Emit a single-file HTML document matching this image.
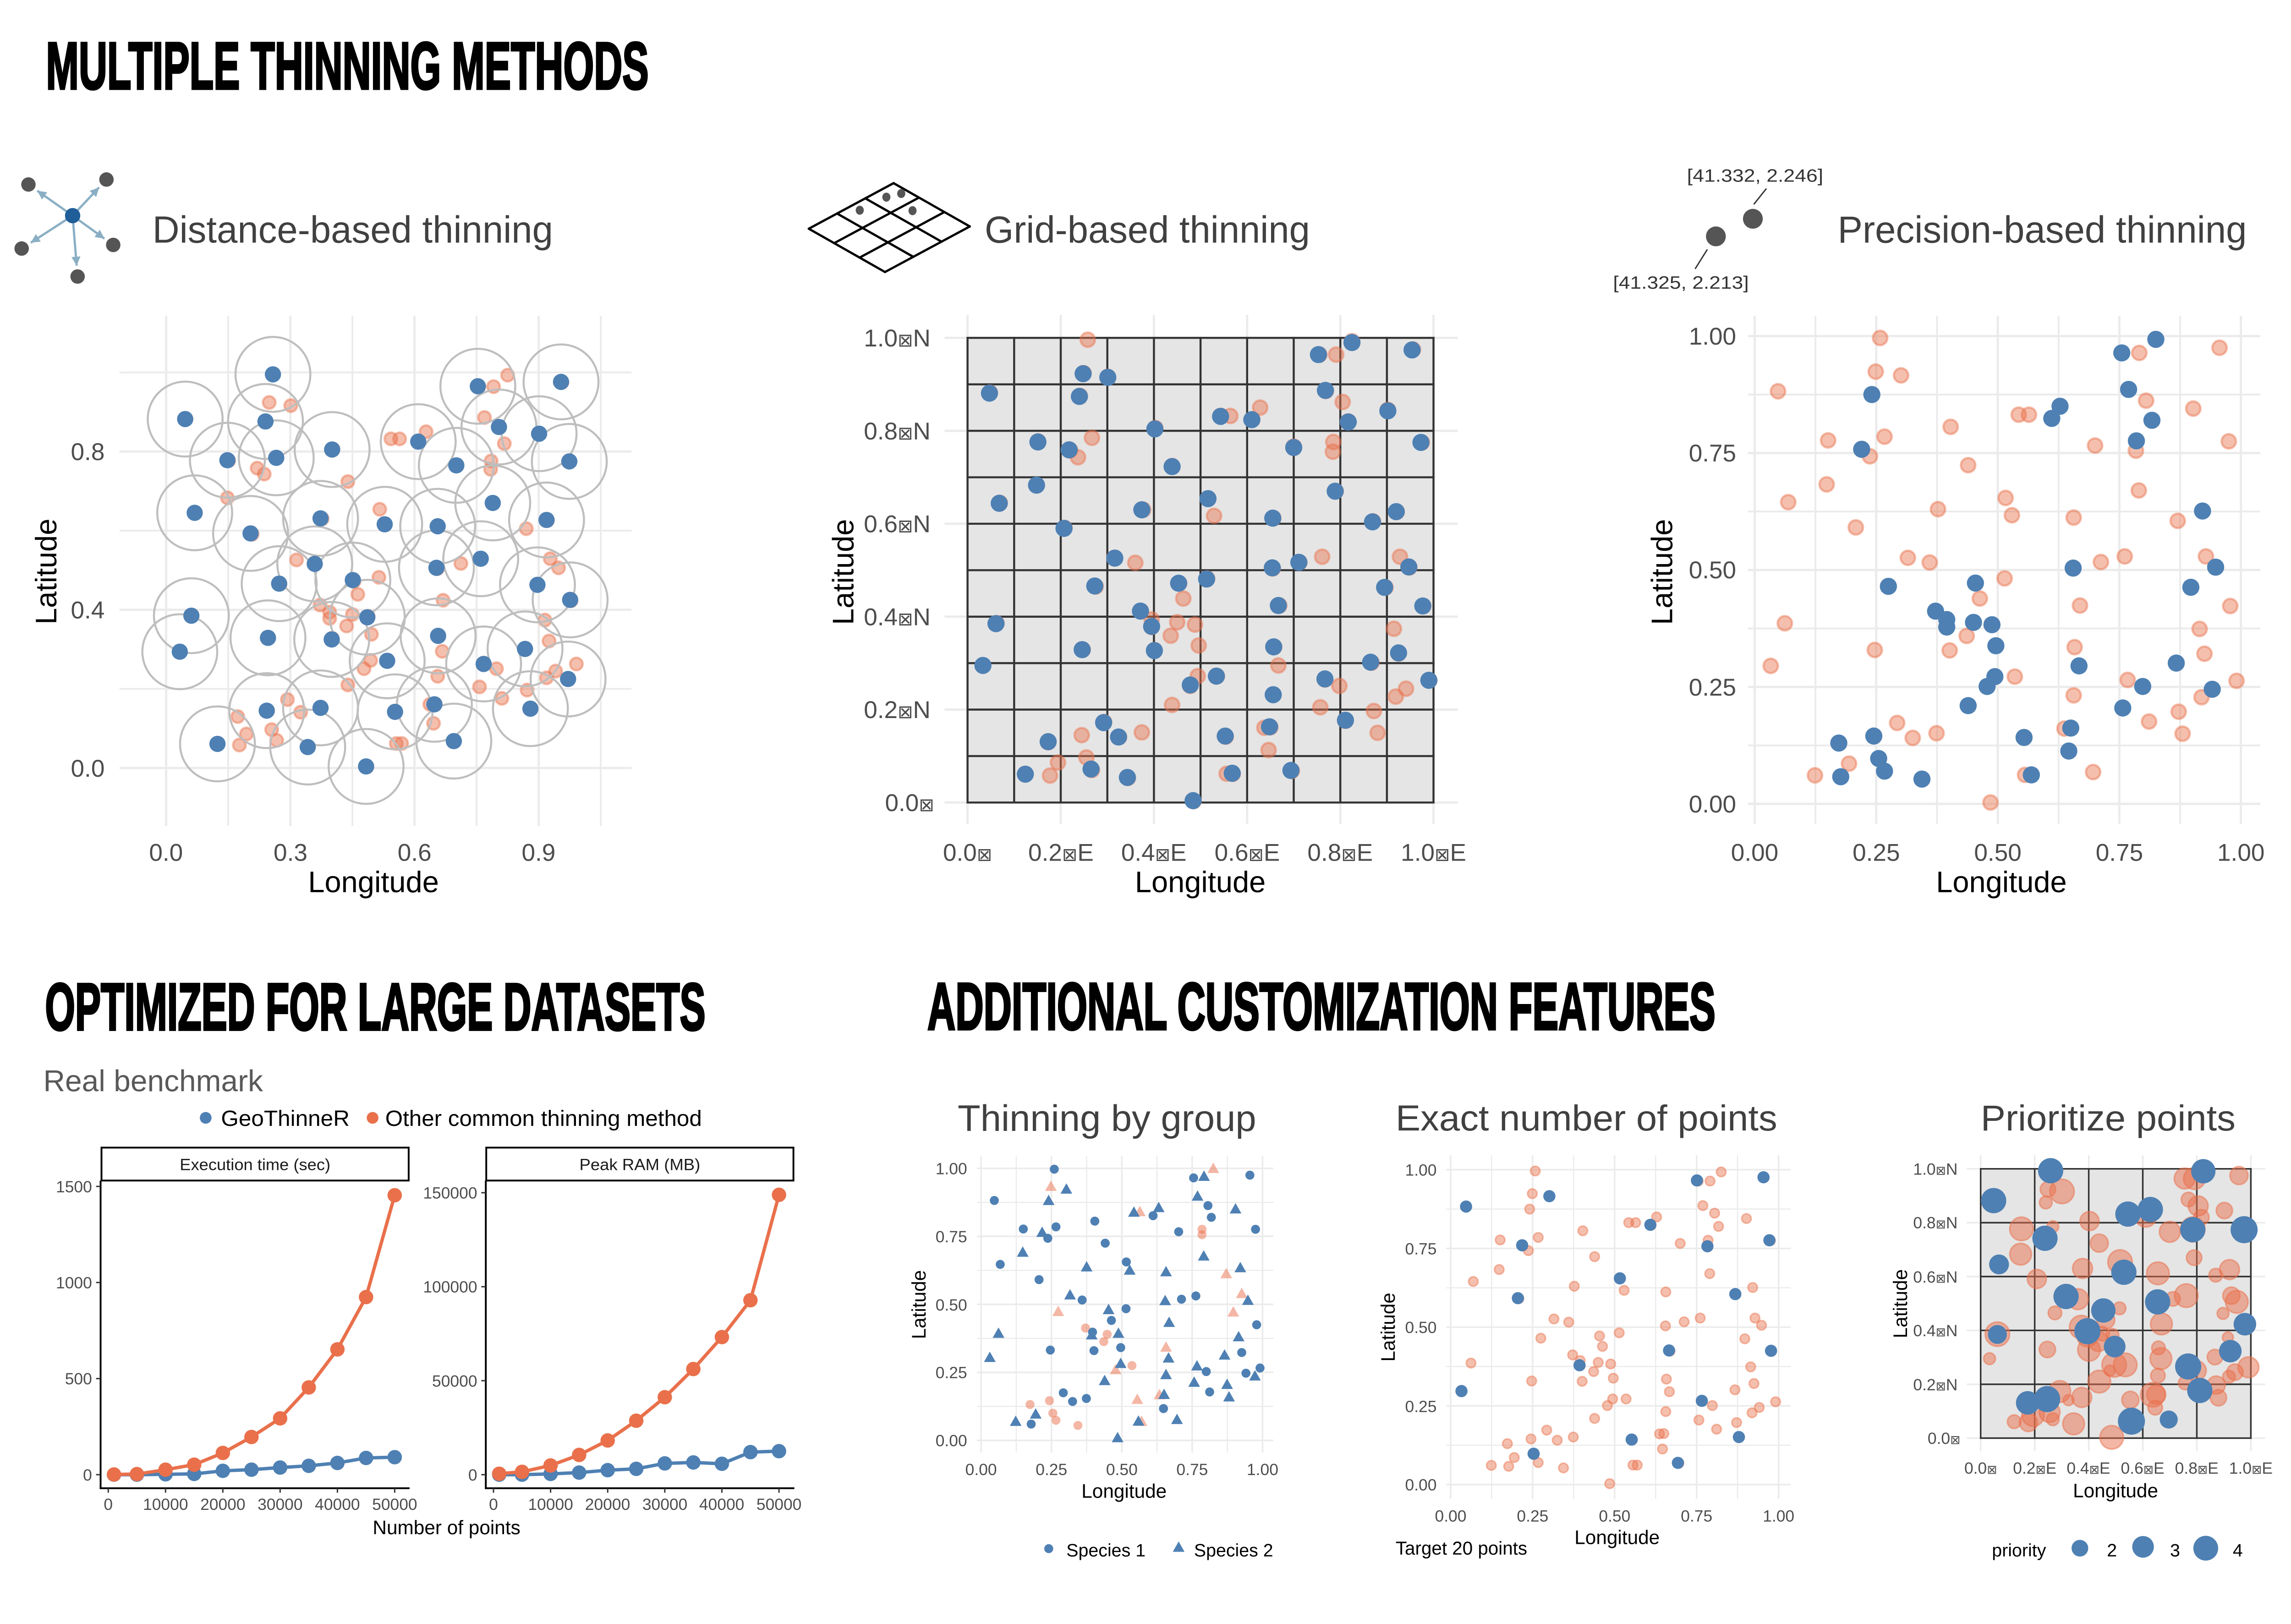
<!DOCTYPE html>
<html>
<head>
<meta charset="utf-8">
<style>
html,body{margin:0;padding:0;background:#fff;overflow:hidden;}
svg{display:block;width:100vw;height:69.777vw;}
text{font-family:"Liberation Sans","DejaVu Sans",sans-serif;}
.tk{font-size:54px;fill:#4D4D4D;}
.tks{font-size:36px;fill:#4D4D4D;}
.ax{font-size:66px;fill:#000;}
.axs{font-size:43px;fill:#000;}
.pt{fill:#404040;}
.big{font-weight:bold;fill:#000;stroke:#000;stroke-width:5;}
.bx{font-size:75%;}
</style>
</head>
<body>
<svg id="s" viewBox="0 0 5079 3544" preserveAspectRatio="none" xmlns="http://www.w3.org/2000/svg">
<defs>
<marker id="ah" viewBox="0 0 10 10" refX="10" refY="5" markerWidth="4" markerHeight="4" orient="auto">
<path d="M0,0 L10,5 L0,10 z" fill="#8AAFC4"/>
</marker>
</defs>
<rect x="0" y="0" width="5079" height="3544" fill="#fff"/>
<g id="dyn"></g>

<!-- Main titles -->
<text class="big" x="102" y="197" font-size="148" textLength="1336" lengthAdjust="spacingAndGlyphs">MULTIPLE THINNING METHODS</text>
<text class="big" x="100" y="2283" font-size="148" textLength="1464" lengthAdjust="spacingAndGlyphs">OPTIMIZED FOR LARGE DATASETS</text>
<text class="big" x="2056" y="2282" font-size="148" textLength="1747" lengthAdjust="spacingAndGlyphs">ADDITIONAL CUSTOMIZATION FEATURES</text>

<!-- Distance icon -->
<g stroke="#8AAFC4" stroke-width="5" marker-end="url(#ah)">
<line x1="161" y1="478" x2="82.6" y2="422.8"/>
<line x1="161" y1="478" x2="219.6" y2="415.5"/>
<line x1="161" y1="478" x2="68.2" y2="538"/>
<line x1="161" y1="478" x2="231.5" y2="529"/>
<line x1="161" y1="478" x2="170" y2="589"/>
</g>
<g fill="#555">
<circle cx="63" cy="409" r="16"/>
<circle cx="236" cy="398" r="16"/>
<circle cx="48" cy="551" r="16"/>
<circle cx="251" cy="543" r="16"/>
<circle cx="172" cy="613" r="16"/>
</g>
<circle cx="161" cy="478" r="17" fill="#1F5E99"/>

<!-- Grid icon -->
<g stroke="#000" stroke-width="5" stroke-linecap="round">
<line x1="1793" y1="507" x2="1981" y2="406"/>
<line x1="1849.3" y1="539" x2="2037.3" y2="438"/>
<line x1="1905.7" y1="571" x2="2093.7" y2="470"/>
<line x1="1962" y1="603" x2="2150" y2="502"/>
<line x1="1793" y1="507" x2="1962" y2="603"/>
<line x1="1855.7" y1="473.3" x2="2024.7" y2="569.3"/>
<line x1="1918.3" y1="439.7" x2="2087.3" y2="535.7"/>
<line x1="1981" y1="406" x2="2150" y2="502"/>
</g>
<g fill="#555">
<ellipse cx="1906" cy="466" rx="9" ry="10"/>
<ellipse cx="1965" cy="437" rx="9" ry="10"/>
<ellipse cx="1998" cy="429" rx="9" ry="10"/>
<ellipse cx="2023" cy="467" rx="9" ry="10"/>
</g>

<!-- Precision icon -->
<circle cx="3804" cy="524" r="22" fill="#555"/>
<circle cx="3886" cy="485" r="22" fill="#555"/>
<line x1="3888" y1="453" x2="3916" y2="418" stroke="#333" stroke-width="3"/>
<line x1="3785" y1="553" x2="3758" y2="596" stroke="#333" stroke-width="3"/>
<text x="3740" y="403" font-size="40" fill="#333" textLength="302" lengthAdjust="spacingAndGlyphs">[41.332, 2.246]</text>
<text x="3576" y="640" font-size="40" fill="#333" textLength="301" lengthAdjust="spacingAndGlyphs">[41.325, 2.213]</text>

<!-- Panel titles top -->
<text class="pt" x="338" y="538" font-size="84" textLength="888" lengthAdjust="spacingAndGlyphs">Distance-based thinning</text>
<text class="pt" x="2183" y="538" font-size="84" textLength="721" lengthAdjust="spacingAndGlyphs">Grid-based thinning</text>
<text class="pt" x="4074" y="538" font-size="84" textLength="907" lengthAdjust="spacingAndGlyphs">Precision-based thinning</text>

<!-- P1 labels -->
<g text-anchor="end">
<text class="tk" x="232" y="1722">0.0</text>
<text class="tk" x="232" y="1371">0.4</text>
<text class="tk" x="232" y="1020">0.8</text>
</g>
<g text-anchor="middle">
<text class="tk" x="368" y="1908">0.0</text>
<text class="tk" x="644" y="1908">0.3</text>
<text class="tk" x="919" y="1908">0.6</text>
<text class="tk" x="1194" y="1908">0.9</text>
<text class="ax" x="828" y="1978">Longitude</text>
<text class="ax" transform="translate(125,1267) rotate(-90)">Latitude</text>
</g>

<!-- P2 labels -->
<g text-anchor="end">
<text class="tk" x="2063" y="768">1.0<tspan class="bx">⊠</tspan>N</text>
<text class="tk" x="2063" y="974">0.8<tspan class="bx">⊠</tspan>N</text>
<text class="tk" x="2063" y="1180">0.6<tspan class="bx">⊠</tspan>N</text>
<text class="tk" x="2063" y="1386">0.4<tspan class="bx">⊠</tspan>N</text>
<text class="tk" x="2063" y="1592">0.2<tspan class="bx">⊠</tspan>N</text>
<text class="tk" x="2071" y="1798">0.0<tspan class="bx">⊠</tspan></text>
</g>
<g text-anchor="middle">
<text class="tk" x="2145" y="1908">0.0<tspan class="bx">⊠</tspan></text>
<text class="tk" x="2352" y="1908">0.2<tspan class="bx">⊠</tspan>E</text>
<text class="tk" x="2558" y="1908">0.4<tspan class="bx">⊠</tspan>E</text>
<text class="tk" x="2765" y="1908">0.6<tspan class="bx">⊠</tspan>E</text>
<text class="tk" x="2971" y="1908">0.8<tspan class="bx">⊠</tspan>E</text>
<text class="tk" x="3178" y="1908">1.0<tspan class="bx">⊠</tspan>E</text>
<text class="ax" x="2661" y="1978">Longitude</text>
<text class="ax" transform="translate(1892,1268) rotate(-90)">Latitude</text>
</g>

<!-- P3 labels -->
<g text-anchor="end">
<text class="tk" x="3849" y="764">1.00</text>
<text class="tk" x="3849" y="1023">0.75</text>
<text class="tk" x="3849" y="1282">0.50</text>
<text class="tk" x="3849" y="1542">0.25</text>
<text class="tk" x="3849" y="1801">0.00</text>
</g>
<g text-anchor="middle">
<text class="tk" x="3890" y="1908">0.00</text>
<text class="tk" x="4159.5" y="1908">0.25</text>
<text class="tk" x="4429" y="1908">0.50</text>
<text class="tk" x="4698.5" y="1908">0.75</text>
<text class="tk" x="4968" y="1908">1.00</text>
<text class="ax" x="4437" y="1978">Longitude</text>
<text class="ax" transform="translate(3707,1268) rotate(-90)">Latitude</text>
</g>

<!-- Benchmark -->
<text x="96" y="2419" font-size="67" fill="#595959" textLength="487" lengthAdjust="spacingAndGlyphs">Real benchmark</text>
<circle cx="456" cy="2478" r="13" fill="#4E80B3"/>
<text x="490" y="2496" font-size="49" fill="#000" textLength="285" lengthAdjust="spacingAndGlyphs">GeoThinneR</text>
<circle cx="826" cy="2478" r="13" fill="#E9704B"/>
<text x="854" y="2496" font-size="49" fill="#000" textLength="702" lengthAdjust="spacingAndGlyphs">Other common thinning method</text>
<rect x="225" y="2544" width="681" height="73" fill="#fff" stroke="#000" stroke-width="4"/>
<rect x="1078" y="2544" width="681" height="73" fill="#fff" stroke="#000" stroke-width="4"/>
<text x="565.5" y="2594" font-size="36" text-anchor="middle" fill="#1A1A1A" textLength="334" lengthAdjust="spacingAndGlyphs">Execution time (sec)</text>
<text x="1418.5" y="2594" font-size="36" text-anchor="middle" fill="#1A1A1A" textLength="268" lengthAdjust="spacingAndGlyphs">Peak RAM (MB)</text>
<g text-anchor="end">
<text class="tks" x="204" y="3282">0</text>
<text class="tks" x="204" y="3069">500</text>
<text class="tks" x="204" y="2856">1000</text>
<text class="tks" x="204" y="2643">1500</text>
<text class="tks" x="1058" y="3282">0</text>
<text class="tks" x="1058" y="3074">50000</text>
<text class="tks" x="1058" y="2865">100000</text>
<text class="tks" x="1058" y="2657">150000</text>
</g>
<g text-anchor="middle">
<text class="tks" x="240" y="3347">0</text>
<text class="tks" x="367" y="3347">10000</text>
<text class="tks" x="494" y="3347">20000</text>
<text class="tks" x="621" y="3347">30000</text>
<text class="tks" x="748" y="3347">40000</text>
<text class="tks" x="875" y="3347">50000</text>
<text class="tks" x="1094" y="3347">0</text>
<text class="tks" x="1220.6" y="3347">10000</text>
<text class="tks" x="1347" y="3347">20000</text>
<text class="tks" x="1474" y="3347">30000</text>
<text class="tks" x="1600" y="3347">40000</text>
<text class="tks" x="1727" y="3347">50000</text>
<text class="axs" x="990" y="3401">Number of points</text>
</g>

<!-- Group panel -->
<text class="pt" x="2123" y="2507" font-size="82" textLength="662" lengthAdjust="spacingAndGlyphs">Thinning by group</text>
<g text-anchor="end">
<text class="tks" x="2144" y="2603">1.00</text>
<text class="tks" x="2144" y="2754">0.75</text>
<text class="tks" x="2144" y="2905">0.50</text>
<text class="tks" x="2144" y="3055">0.25</text>
<text class="tks" x="2144" y="3206">0.00</text>
</g>
<g text-anchor="middle">
<text class="tks" x="2175" y="3270">0.00</text>
<text class="tks" x="2331" y="3270">0.25</text>
<text class="tks" x="2487" y="3270">0.50</text>
<text class="tks" x="2643" y="3270">0.75</text>
<text class="tks" x="2799" y="3270">1.00</text>
<text class="axs" x="2492" y="3320">Longitude</text>
<text class="axs" transform="translate(2052,2892) rotate(-90)">Latitude</text>
</g>
<circle cx="2325" cy="3433" r="10" fill="#4E80B3"/>
<text x="2364" y="3450" font-size="40" fill="#000">Species 1</text>
<polygon points="2613,3417 2600,3440 2626,3440" fill="#4E80B3"/>
<text x="2647" y="3450" font-size="40" fill="#000">Species 2</text>

<!-- Exact panel -->
<text class="pt" x="3094" y="2506" font-size="80" textLength="846" lengthAdjust="spacingAndGlyphs">Exact number of points</text>
<g text-anchor="end">
<text class="tks" x="3185" y="2606">1.00</text>
<text class="tks" x="3185" y="2781">0.75</text>
<text class="tks" x="3185" y="2955">0.50</text>
<text class="tks" x="3185" y="3130">0.25</text>
<text class="tks" x="3185" y="3304">0.00</text>
</g>
<g text-anchor="middle">
<text class="tks" x="3216" y="3373">0.00</text>
<text class="tks" x="3397.75" y="3373">0.25</text>
<text class="tks" x="3579.5" y="3373">0.50</text>
<text class="tks" x="3761.25" y="3373">0.75</text>
<text class="tks" x="3943" y="3373">1.00</text>
<text class="axs" x="3585" y="3423">Longitude</text>
<text class="axs" transform="translate(3092,2942) rotate(-90)">Latitude</text>
</g>
<text x="3094" y="3446" font-size="41" fill="#000">Target 20 points</text>

<!-- Priority panel -->
<text class="pt" x="4391" y="2506" font-size="80" textLength="565" lengthAdjust="spacingAndGlyphs">Prioritize points</text>
<g text-anchor="end">
<text class="tks" x="4340" y="2604">1.0<tspan class="bx">⊠</tspan>N</text>
<text class="tks" x="4340" y="2723">0.8<tspan class="bx">⊠</tspan>N</text>
<text class="tks" x="4340" y="2843">0.6<tspan class="bx">⊠</tspan>N</text>
<text class="tks" x="4340" y="2962">0.4<tspan class="bx">⊠</tspan>N</text>
<text class="tks" x="4340" y="3082">0.2<tspan class="bx">⊠</tspan>N</text>
<text class="tks" x="4346" y="3201">0.0<tspan class="bx">⊠</tspan></text>
</g>
<g text-anchor="middle">
<text class="tks" x="4391" y="3267">0.0<tspan class="bx">⊠</tspan></text>
<text class="tks" x="4511" y="3267">0.2<tspan class="bx">⊠</tspan>E</text>
<text class="tks" x="4630" y="3267">0.4<tspan class="bx">⊠</tspan>E</text>
<text class="tks" x="4750" y="3267">0.6<tspan class="bx">⊠</tspan>E</text>
<text class="tks" x="4870" y="3267">0.8<tspan class="bx">⊠</tspan>E</text>
<text class="tks" x="4990" y="3267">1.0<tspan class="bx">⊠</tspan>E</text>
<text class="axs" x="4690" y="3319">Longitude</text>
<text class="axs" transform="translate(4228,2890) rotate(-90)">Latitude</text>
</g>
<text x="4416" y="3450" font-size="40" fill="#000">priority</text>
<circle cx="4611" cy="3432" r="18.5" fill="#4E80B3"/>
<circle cx="4751" cy="3429" r="24" fill="#4E80B3"/>
<circle cx="4890" cy="3432" r="27.5" fill="#4E80B3"/>
<g text-anchor="middle">
<text x="4682" y="3450" font-size="40" fill="#000">2</text>
<text x="4822" y="3450" font-size="40" fill="#000">3</text>
<text x="4961" y="3450" font-size="40" fill="#000">4</text>
</g>
</svg>

<script>
(function(){
var NS="http://www.w3.org/2000/svg";
var G=document.getElementById("dyn");
var BL="#4E80B3", OR="#E9704B";
function el(t,a){var e=document.createElementNS(NS,t);for(var k in a)e.setAttribute(k,a[k]);G.appendChild(e);return e;}
function X(P,v){return P.x0+v*P.kx;}
function Y(P,v){return P.y0-v*P.ky;}
function ln(x1,y1,x2,y2,s,w,cap){el("line",{x1:x1,y1:y1,x2:x2,y2:y2,stroke:s,"stroke-width":w,"stroke-linecap":cap||"butt"});}
function vl(P,vals,a,b,w,c){vals.forEach(function(v){ln(X(P,v),a,X(P,v),b,c||"#EBEBEB",w);});}
function hl(P,vals,a,b,w,c){vals.forEach(function(v){ln(a,Y(P,v),b,Y(P,v),c||"#EBEBEB",w);});}
function oc(P,pts,r,sw,op){pts.forEach(function(p,i){var rr=(typeof r==="function")?r(i):r;
 el("circle",{cx:X(P,p[0]),cy:Y(P,p[1]),r:rr,fill:OR,"fill-opacity":op,stroke:OR,"stroke-opacity":op,"stroke-width":sw});});}
function bc(P,pts,r){pts.forEach(function(p){el("circle",{cx:X(P,p[0]),cy:Y(P,p[1]),r:(p[2]||r),fill:BL});});}
function tri(cx,cy,fill,op){el("polygon",{points:cx+","+(cy-14)+" "+(cx-13)+","+(cy+9)+" "+(cx+13)+","+(cy+9),fill:fill,"fill-opacity":op});}

var BASE_O=[[0.258,0.996],[0.956,0.975],[0.791,0.964],[0.249,0.924],[0.301,0.916],[0.048,0.882],[0.805,0.862],[0.902,0.845],[0.543,0.832],[0.564,0.832],[0.403,0.806],[0.267,0.785],[0.151,0.777],[0.975,0.775],[0.700,0.766],[0.784,0.755],[0.237,0.743],[0.439,0.724],[0.148,0.683],[0.790,0.670],[0.516,0.654],[0.069,0.645],[0.377,0.630],[0.529,0.617],[0.656,0.612],[0.870,0.605],[0.208,0.591],[0.315,0.526],[0.761,0.529],[0.928,0.529],[0.360,0.516],[0.712,0.517],[0.514,0.482],[0.463,0.439],[0.669,0.424],[0.978,0.423],[0.062,0.386],[0.915,0.374],[0.436,0.359],[0.247,0.329],[0.401,0.328],[0.658,0.335],[0.925,0.321],[0.033,0.295],[0.535,0.272],[0.767,0.265],[0.991,0.263],[0.656,0.232],[0.919,0.228],[0.872,0.197],[0.293,0.173],[0.811,0.176],[0.637,0.161],[0.325,0.141],[0.374,0.151],[0.880,0.150],[0.194,0.086],[0.124,0.061],[0.556,0.062],[0.696,0.068],[0.485,0.003]];
var P3B=[[0.825,0.993],[0.755,0.964],[0.769,0.886],[0.241,0.875],[0.628,0.850],[0.611,0.824],[0.817,0.820],[0.785,0.776],[0.220,0.758],[0.921,0.626],[0.655,0.504],[0.948,0.506],[0.275,0.465],[0.454,0.472],[0.897,0.463],[0.372,0.412],[0.395,0.394],[0.395,0.378],[0.450,0.388],[0.488,0.383],[0.496,0.338],[0.667,0.295],[0.867,0.301],[0.494,0.272],[0.478,0.251],[0.798,0.251],[0.941,0.245],[0.439,0.210],[0.757,0.205],[0.650,0.162],[0.173,0.130],[0.245,0.145],[0.554,0.142],[0.255,0.097],[0.646,0.113],[0.267,0.070],[0.177,0.058],[0.344,0.053],[0.569,0.062]];
var BASE=BASE_O.concat(P3B);
var P1B=[[0.258,0.995],[0.753,0.965],[0.954,0.976],[0.046,0.882],[0.240,0.876],[0.804,0.862],[0.901,0.845],[0.609,0.825],[0.148,0.778],[0.266,0.784],[0.401,0.805],[0.701,0.765],[0.974,0.775],[0.069,0.645],[0.789,0.670],[0.373,0.631],[0.528,0.616],[0.656,0.611],[0.204,0.593],[0.919,0.627],[0.760,0.529],[0.653,0.506],[0.359,0.516],[0.273,0.466],[0.451,0.475],[0.897,0.463],[0.976,0.425],[0.061,0.385],[0.486,0.381],[0.246,0.329],[0.400,0.325],[0.657,0.334],[0.033,0.294],[0.534,0.271],[0.767,0.263],[0.867,0.301],[0.971,0.225],[0.243,0.145],[0.373,0.152],[0.553,0.142],[0.648,0.161],[0.880,0.150],[0.124,0.061],[0.342,0.053],[0.695,0.068],[0.483,0.004]];
var P2B=[[0.825,0.990],[0.954,0.974],[0.753,0.964],[0.248,0.923],[0.301,0.915],[0.047,0.881],[0.240,0.874],[0.768,0.887],[0.902,0.843],[0.543,0.831],[0.610,0.824],[0.817,0.819],[0.402,0.804],[0.151,0.776],[0.218,0.759],[0.973,0.775],[0.700,0.764],[0.439,0.723],[0.148,0.683],[0.789,0.670],[0.068,0.644],[0.516,0.654],[0.374,0.630],[0.655,0.612],[0.869,0.604],[0.920,0.626],[0.207,0.590],[0.316,0.526],[0.711,0.517],[0.654,0.505],[0.947,0.507],[0.273,0.466],[0.453,0.472],[0.513,0.481],[0.895,0.463],[0.667,0.424],[0.977,0.423],[0.371,0.412],[0.395,0.379],[0.061,0.385],[0.246,0.329],[0.401,0.327],[0.657,0.335],[0.033,0.295],[0.865,0.302],[0.925,0.322],[0.534,0.272],[0.478,0.253],[0.767,0.266],[0.990,0.263],[0.656,0.232],[0.811,0.177],[0.292,0.172],[0.173,0.131],[0.324,0.141],[0.553,0.143],[0.648,0.163],[0.124,0.061],[0.265,0.072],[0.343,0.054],[0.568,0.063],[0.694,0.069],[0.484,0.004]];
var PEB=[[0.047,0.883],[0.301,0.916],[0.751,0.966],[0.954,0.976],[0.609,0.825],[0.218,0.760],[0.972,0.776],[0.783,0.757],[0.516,0.655],[0.205,0.592],[0.868,0.605],[0.666,0.426],[0.977,0.425],[0.393,0.379],[0.033,0.297],[0.766,0.266],[0.552,0.143],[0.879,0.151],[0.253,0.098],[0.693,0.069]];
var PRB=[[0.259,0.993,28],[0.824,0.991,27],[0.048,0.882,28],[0.545,0.832,28],[0.628,0.849,28],[0.238,0.742,28],[0.785,0.774,28],[0.975,0.774,30],[0.068,0.645,22],[0.530,0.616,28],[0.316,0.526,28],[0.655,0.506,28],[0.454,0.474,27],[0.978,0.423,25],[0.062,0.385,21],[0.395,0.397,29],[0.496,0.340,24],[0.924,0.323,25],[0.768,0.266,29],[0.811,0.177,28],[0.174,0.131,26],[0.246,0.145,29],[0.558,0.063,30],[0.696,0.069,20]];
var GBC=[[0.260,0.997],[0.047,0.882],[0.755,0.965],[0.955,0.975],[0.806,0.863],[0.818,0.820],[0.611,0.826],[0.404,0.806],[0.150,0.777],[0.266,0.785],[0.237,0.743],[0.702,0.767],[0.975,0.776],[0.441,0.725],[0.068,0.647],[0.516,0.656],[0.206,0.591],[0.359,0.516],[0.763,0.531],[0.712,0.519],[0.515,0.484],[0.463,0.441],[0.979,0.425],[0.396,0.398],[0.401,0.330],[0.496,0.341],[0.246,0.332],[0.926,0.323],[0.991,0.266],[0.941,0.247],[0.800,0.253],[0.812,0.178],[0.292,0.175],[0.325,0.143],[0.374,0.154],[0.648,0.117],[0.178,0.060]];
var GBT=[[0.303,0.922],[0.240,0.880],[0.792,0.969],[0.769,0.896],[0.631,0.854],[0.543,0.837],[0.904,0.849],[0.217,0.763],[0.148,0.690],[0.791,0.676],[0.375,0.636],[0.528,0.624],[0.657,0.618],[0.921,0.633],[0.316,0.533],[0.453,0.479],[0.654,0.512],[0.948,0.513],[0.668,0.432],[0.062,0.392],[0.393,0.386],[0.488,0.392],[0.915,0.379],[0.031,0.303],[0.666,0.301],[0.496,0.281],[0.865,0.312],[0.767,0.272],[0.657,0.240],[0.973,0.235],[0.439,0.218],[0.757,0.212],[0.874,0.204],[0.650,0.167],[0.881,0.158],[0.194,0.095],[0.123,0.068],[0.559,0.069],[0.696,0.075],[0.485,0.008]];
var GOC=[[0.785,0.776],[0.785,0.756],[0.371,0.413],[0.448,0.390],[0.436,0.363],[0.536,0.275],[0.174,0.132],[0.243,0.146],[0.255,0.100],[0.266,0.074],[0.344,0.055]];
var GOT=[[0.248,0.932],[0.825,0.998],[0.564,0.839],[0.871,0.611],[0.926,0.538],[0.274,0.472],[0.896,0.470],[0.657,0.341],[0.478,0.258],[0.555,0.149],[0.634,0.166],[0.570,0.068]];

var P1={x0:368.3,kx:917.7,y0:1702.5,ky:877};
var P2={x0:2145,kx:1033,y0:1779,ky:1030};
var P3={x0:3890,kx:1078,y0:1782,ky:1037};
var PG={x0:2175,kx:624,y0:3193,ky:603};
var PE={x0:3216,kx:727,y0:3291,ky:698};
var PR={x0:4391,kx:599,y0:3188,ky:597};
var f6=[0,0.2,0.4,0.6,0.8,1];

/* P1 distance */
vl(P1,[0,0.3,0.6,0.9],700,1831,5);
vl(P1,[0.15,0.45,0.75,1.05],700,1831,4);
hl(P1,[0,0.4,0.8],265,1400,5);
hl(P1,[0.2,0.6,1.0],265,1400,4);
oc(P1,BASE,14,5,0.45);
P1B.forEach(function(p){el("circle",{cx:X(P1,p[0]),cy:Y(P1,p[1]),r:83,fill:"none",stroke:"#BEBEBE","stroke-width":4.5});});
bc(P1,P1B,18);

/* P2 grid */
vl(P2,f6,698,1826,5);
hl(P2,f6,2094,3232,5);
el("rect",{x:2145,y:749,width:1033,height:1030,fill:"#E5E5E5"});
for(var i=0;i<=10;i++){var v=i/10;
 ln(X(P2,v),749,X(P2,v),1779,"#333",4.5,"square");
 ln(2145,Y(P2,v),3178,Y(P2,v),"#333",4.5,"square");}
oc(P2,BASE,16,5,0.45);
bc(P2,P2B,19);

/* P3 precision */
vl(P3,[0,0.25,0.5,0.75,1],700,1826,5);
vl(P3,[0.125,0.375,0.625,0.875],700,1826,4);
hl(P3,[0,0.25,0.5,0.75,1],3875,5011,5);
hl(P3,[0.125,0.375,0.625,0.875],3875,5011,4);
oc(P3,BASE,16,5,0.45);
bc(P3,P3B,19);

/* Benchmark */
var xs=[1000,5000,10000,15000,20000,25000,30000,35000,40000,45000,50000];
var b1o=[1,3,26,52,113,196,293,454,652,924,1454];
var b1b=[0,0,2,4,20,26,37,46,61,87,91];
var b2o=[500,1500,4900,10500,18200,28700,41200,56200,73200,92800,148900];
var b2b=[0,0,400,1100,2400,3100,6000,6500,5800,12000,12500];
function series(fx,fy,ys,col){
 var pts=xs.map(function(x,i){return fx(x)+","+fy(ys[i]);}).join(" ");
 el("polyline",{points:pts,fill:"none",stroke:col,"stroke-width":7.5,"stroke-linejoin":"round"});
 xs.forEach(function(x,i){el("circle",{cx:fx(x),cy:fy(ys[i]),r:16,fill:col});});
}
var f1x=function(x){return 240+x*0.0127;}, f1y=function(y){return 3269-y*0.426;};
var f2x=function(x){return 1094+x*0.01266;}, f2y=function(y){return 3269-y*625/150000;};
series(f1x,f1y,b1b,BL); series(f1x,f1y,b1o,OR);
series(f2x,f2y,b2b,BL); series(f2x,f2y,b2o,OR);
ln(223,2619,223,3299,"#000",4,"square"); ln(223,3299,906,3299,"#000",4,"square");
ln(1077,2619,1077,3299,"#000",4,"square"); ln(1077,3299,1759,3299,"#000",4,"square");
[0,500,1000,1500].forEach(function(y){ln(213,f1y(y),223,f1y(y),"#333",3);});
[0,50000,100000,150000].forEach(function(y){ln(1067,f2y(y),1077,f2y(y),"#333",3);});
[0,10000,20000,30000,40000,50000].forEach(function(x){ln(f1x(x),3299,f1x(x),3309,"#333",3);ln(f2x(x),3299,f2x(x),3309,"#333",3);});

/* Group panel */
vl(PG,[0,0.25,0.5,0.75,1],2563,3220,3.5);
vl(PG,[0.125,0.375,0.625,0.875],2563,3220,2.5);
hl(PG,[0,0.25,0.5,0.75,1],2166,2823,3.5);
hl(PG,[0.125,0.375,0.625,0.875],2166,2823,2.5);
GOC.forEach(function(p){el("circle",{cx:X(PG,p[0]),cy:Y(PG,p[1]),r:10,fill:OR,"fill-opacity":0.5});});
GOT.forEach(function(p){tri(X(PG,p[0]),Y(PG,p[1]),OR,0.5);});
GBC.forEach(function(p){el("circle",{cx:X(PG,p[0]),cy:Y(PG,p[1]),r:10,fill:BL});});
GBT.forEach(function(p){tri(X(PG,p[0]),Y(PG,p[1]),BL,1);});

/* Exact panel */
vl(PE,[0,0.25,0.5,0.75,1],2561,3323,3.5);
vl(PE,[0.125,0.375,0.625,0.875],2561,3323,2.5);
hl(PE,[0,0.25,0.5,0.75,1],3206,3970,3.5);
hl(PE,[0.125,0.375,0.625,0.875],3206,3970,2.5);
oc(PE,BASE,10.5,3.5,0.45);
bc(PE,PEB,13.5);

/* Priority panel */
vl(PR,f6,2561,3217,3.5);
hl(PR,f6,4360,5022,3.5);
el("rect",{x:4391,y:2591,width:599,height:597,fill:"#E5E5E5"});
f6.forEach(function(v){
 ln(X(PR,v),2591,X(PR,v),3188,"#333",3.5,"square");
 ln(4391,Y(PR,v),4990,Y(PR,v),"#333",3.5,"square");});
var rs=[14,20,24,17,27,12,22,18,25,15,21,13,26,19,23,16];
oc(PR,BASE,function(i){return rs[i%rs.length];},3.5,0.5);
bc(PR,PRB,26);
})();
</script>
</body>
</html>
